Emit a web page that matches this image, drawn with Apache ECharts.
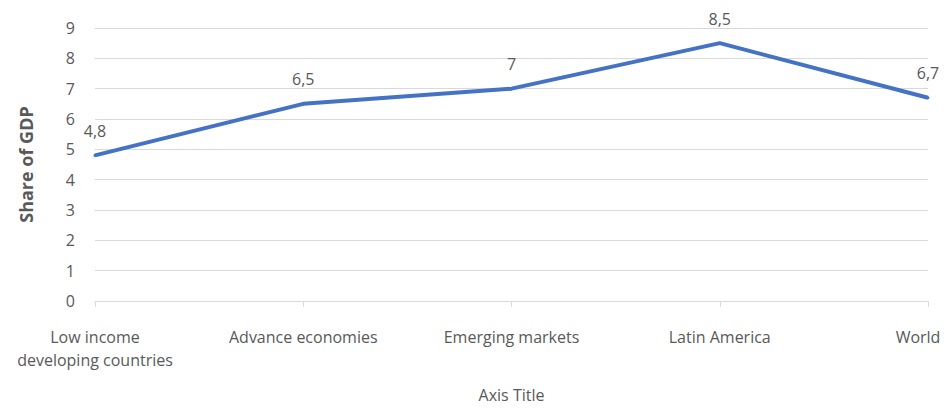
<!DOCTYPE html>
<html>
<head>
<meta charset="utf-8">
<script src="https://cdn.jsdelivr.net/npm/echarts@6/dist/echarts.min.js"></script>
<style>
  html, body { margin: 0; padding: 0; background: #fff; }
  #chart { width: 951px; height: 408px; }
</style>
</head>
<body>
<div id="chart"></div>
<script>
// Share of GDP by region
var categories = ['Low income\ndeveloping countries', 'Advance economies', 'Emerging markets', 'Latin America', 'World'];
var shareValues = [4.8, 6.5, 7, 8.5, 6.7];
var yTicks = { min: 0, max: 9, step: 1 };

(function() {
  var grey = '#595959';
  var rule = '#D9D9D9';
  var lineColor = '#4472C4';
  var font = '"Open Sans", sans-serif';

  var chart = echarts.init(document.getElementById('chart'), null, { renderer: 'svg' });
  chart.setOption({
    animation: false,
    textStyle: { fontFamily: font },
    grid: { left: 95, right: 23, top: 28, bottom: 107, outerBoundsMode: 'none', containLabel: false },
    xAxis: {
      type: 'category',
      boundaryGap: false,
      data: categories.map(function(c, i) {
        if (i === categories.length - 1) {
          return { value: c, textStyle: { padding: [0, 20, 0, 0] } };
        }
        return c;
      }),
      name: 'Axis Title',
      nameLocation: 'middle',
      nameGap: 86,
      nameTextStyle: { color: grey, fontSize: 16, fontFamily: font },
      axisLine: { lineStyle: { color: rule, width: 1 } },
      axisTick: { show: true, length: 6, lineStyle: { color: rule } },
      axisLabel: { color: grey, fontSize: 16, margin: 24, lineHeight: 23, fontFamily: font }
    },
    yAxis: {
      type: 'value',
      min: yTicks.min,
      max: yTicks.max,
      interval: yTicks.step,
      name: 'Share of GDP',
      nameLocation: 'middle',
      nameGap: 60,
      nameTextStyle: { color: grey, fontSize: 18, fontWeight: 'bold', fontFamily: font },
      axisLine: { show: false },
      axisTick: { show: false },
      axisLabel: { color: grey, fontSize: 16, margin: 20, fontFamily: font },
      splitLine: { lineStyle: { color: rule, width: 1 } }
    },
    series: [{
      type: 'line',
      data: shareValues,
      symbol: 'circle',
      symbolSize: 3,
      showSymbol: true,
      itemStyle: { color: lineColor },
      lineStyle: { color: lineColor, width: 4 },
      label: {
        show: true,
        position: 'top',
        distance: 15,
        color: grey,
        fontSize: 16,
        fontFamily: font,
        formatter: function(p) { return String(p.value).replace('.', ','); }
      }
    }]
  });
  window.addEventListener('resize', function() { chart.resize(); });
})();
</script>
</body>
</html>
